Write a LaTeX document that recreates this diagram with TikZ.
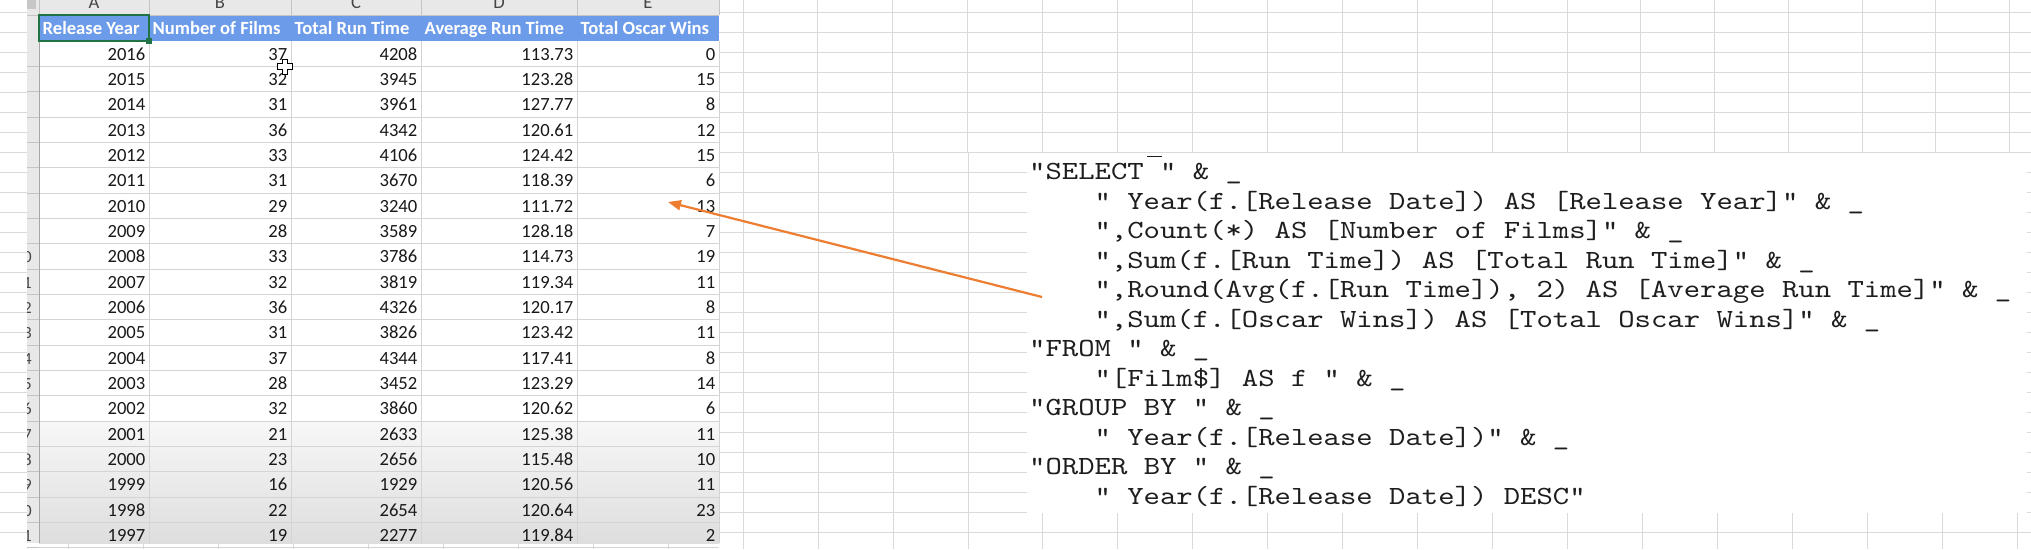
\documentclass[tikz,border=0pt]{standalone}
\usepackage{fontspec}
\setmonofont{lmmono10-regular.otf}[FakeStretch=1.19]
\newfontfamily\calib{Carlito}
\usetikzlibrary{arrows.meta}
\definecolor{bggrid}{RGB}{218,218,218}
\definecolor{hdrblue}{RGB}{108,155,234}
\definecolor{xlgreen}{RGB}{33,115,70}
\definecolor{hdrgray}{RGB}{232,232,232}
\definecolor{sepgray}{RGB}{196,196,196}
\definecolor{cellline}{RGB}{212,212,212}
\definecolor{arroworange}{RGB}{237,125,49}
\definecolor{codetext}{RGB}{30,30,30}
\definecolor{numtext}{RGB}{25,25,25}
\definecolor{rowtext}{RGB}{70,70,70}
\tikzset{
  cellnum/.style={anchor=base east, inner sep=0pt, text=numtext, font=\calib\fontsize{18.6}{20}\selectfont},
  hdrtext/.style={anchor=base west, inner sep=0pt, text=white, font=\calib\bfseries\fontsize{18.6}{20}\selectfont},
  colletter/.style={anchor=base, inner sep=0pt, text=rowtext, font=\calib\fontsize{18.6}{20}\selectfont},
  rownum/.style={anchor=base, inner sep=0pt, text=rowtext, font=\calib\fontsize{17}{20}\selectfont},
  codeline/.style={anchor=base west, inner sep=0pt, text=codetext, font=\ttfamily\fontsize{26.2}{30}\selectfont},
  bgline/.style={draw=bggrid, line width=1pt},
  cline/.style={draw=cellline, line width=1pt},
  sline/.style={draw=sepgray, line width=1pt}
}
\begin{document}
\begin{tikzpicture}[x=1pt,y=-1pt]
\useasboundingbox (0,0) rectangle (2031,549);
\fill[white] (0,0) rectangle (2031,549);
% background sheet grid
\foreach \yy in {12.3,32.3,...,545} \draw[bgline] (0,\yy) -- (2031,\yy);
\foreach \xx in {68,143,218,293,368,443,518,593,668,743,817,892,967,1042,1117,1192,1267,1342,1417,1492,1567,1640,1714,1788,1862,1935,2009}
  \draw[bgline] (\xx,0) -- (\xx,153);
\foreach \xx in {68,143,218,293,368,443,518,593,668,743,818,893,968,1042,1117,1192,1267,1342,1417,1492,1567,1642,1717,1792,1867,1942,2017}
  \draw[bgline] (\xx,153) -- (\xx,549);
% ---------- spreadsheet image ----------
\fill[white] (27,0) rectangle (719,543);
\shade[top color=black!3, bottom color=black!13] (39,421) rectangle (719,543);
\fill[hdrgray] (27,0) rectangle (719,15);
\fill[hdrgray] (27,15) rectangle (39,543);
\fill[black!22] (27,0) rectangle (36,9);
\fill[hdrblue] (39,15) rectangle (719,41);
% cell grid lines
\foreach \k in {1,...,20} {
  \pgfmathsetmacro\ly{41+25.333*\k}
  \draw[cline] (39,\ly) -- (719,\ly);
  \draw[sline] (27,\ly) -- (39,\ly);
}
\foreach \xx in {149,291,421,577,719} \draw[cline] (\xx,41) -- (\xx,543);
\foreach \xx in {39,149,291,421,577,719} \draw[sline] (\xx,0) -- (\xx,15);
\draw[sline] (27,15) -- (719,15);
\draw[draw=black!35, line width=1pt] (39,15) -- (39,543);
% column letters (cut at top, as in the screenshot)
\begin{scope}
\clip (27,0) rectangle (719,15);
\node[colletter] (colA) at (94,8) {A};
\node[colletter] (colB) at (220,8) {B};
\node[colletter] (colC) at (356,8) {C};
\node[colletter] (colD) at (499,8) {D};
\node[colletter] (colE) at (648,8) {E};
\end{scope}
% row numbers (cut at left)
\begin{scope}
\clip (27,15) rectangle (39,543);
\node[rownum] (r1) at (23,34) {1};
\foreach \k in {0,...,19} {
  \pgfmathsetmacro\by{60+25.333*\k}
  \pgfmathtruncatemacro\rn{\k+2}
  \node[rownum] (r\rn) at (23,\by) {\rn};
}
\end{scope}
% header row
\node[hdrtext] (hA) at (42.5,34.3) {Release Year};
\node[hdrtext] (hB) at (152.5,34.3) {Number of Films};
\node[hdrtext] (hC) at (294.5,34.3) {Total Run Time};
\node[hdrtext] (hD) at (424.5,34.3) {Average Run Time};
\node[hdrtext] (hE) at (580.5,34.3) {Total Oscar Wins};
\draw[xlgreen, line width=2pt] (39,15) rectangle (149,41);
\fill[xlgreen] (146,38) rectangle (152,44);
% data
\foreach \yr/\nf/\tr/\ar/\ow [count=\k from 0] in {
  2016/37/4208/113.73/0, 2015/32/3945/123.28/15, 2014/31/3961/127.77/8,
  2013/36/4342/120.61/12, 2012/33/4106/124.42/15, 2011/31/3670/118.39/6,
  2010/29/3240/111.72/13, 2009/28/3589/128.18/7, 2008/33/3786/114.73/19,
  2007/32/3819/119.34/11, 2006/36/4326/120.17/8, 2005/31/3826/123.42/11,
  2004/37/4344/117.41/8, 2003/28/3452/123.29/14, 2002/32/3860/120.62/6,
  2001/21/2633/125.38/11, 2000/23/2656/115.48/10, 1999/16/1929/120.56/11,
  1998/22/2654/120.64/23, 1997/19/2277/119.84/2} {
  \pgfmathsetmacro\by{60+25.333*\k}
  \node[cellnum] (A\k) at (145.5,\by) {\yr};
  \node[cellnum] (B\k) at (287.5,\by) {\nf};
  \node[cellnum] (C\k) at (417.5,\by) {\tr};
  \node[cellnum] (D\k) at (573.5,\by) {\ar};
  \node[cellnum] (E\k) at (715.5,\by) {\ow};
}
% mouse cursor
\draw[black, fill=white, line width=0.8pt] (282.2,59) -- (287.8,59) -- (287.8,63.7) -- (292.5,63.7) -- (292.5,69.3) -- (287.8,69.3) -- (287.8,74) -- (282.2,74) -- (282.2,69.3) -- (277.5,69.3) -- (277.5,63.7) -- (282.2,63.7) -- cycle;
% ---------- code box ----------
\node[fill=white, inner sep=0pt, minimum width=999.5pt, minimum height=360pt, anchor=north west] (codebox) at (1027,153) {};
\draw[codetext, line width=1.6pt] (1147,156.5) -- (1162,156.5);
\node[codeline] (c1) at (1029,179.5) {"SELECT " \& \_};
\node[codeline] (c2) at (1094.4,209) {" Year(f.[Release Date]) AS [Release Year]" \& \_};
\node[codeline] (c3) at (1094.4,238.5) {",Count(*) AS [Number of Films]" \& \_};
\node[codeline] (c4) at (1094.4,268) {",Sum(f.[Run Time]) AS [Total Run Time]" \& \_};
\node[codeline] (c5) at (1094.4,297.5) {",Round(Avg(f.[Run Time]), 2) AS [Average Run Time]" \& \_};
\node[codeline] (c6) at (1094.4,327) {",Sum(f.[Oscar Wins]) AS [Total Oscar Wins]" \& \_};
\node[codeline] (c7) at (1029,356.5) {"FROM " \& \_};
\node[codeline] (c8) at (1094.4,386) {"[Film\$] AS f " \& \_};
\node[codeline] (c9) at (1029,415.5) {"GROUP BY " \& \_};
\node[codeline] (c10) at (1094.4,445) {" Year(f.[Release Date])" \& \_};
\node[codeline] (c11) at (1029,474.5) {"ORDER BY " \& \_};
\node[codeline] (c12) at (1094.4,504) {" Year(f.[Release Date]) DESC"};
% ---------- arrow ----------
\coordinate (arrowfrom) at (1042,297);
\coordinate (arrowto) at (668,202);
\draw[arroworange, line width=2.2pt, -{Triangle[length=13pt,width=10pt]}] (arrowfrom) -- (arrowto);
\end{tikzpicture}
\end{document}
